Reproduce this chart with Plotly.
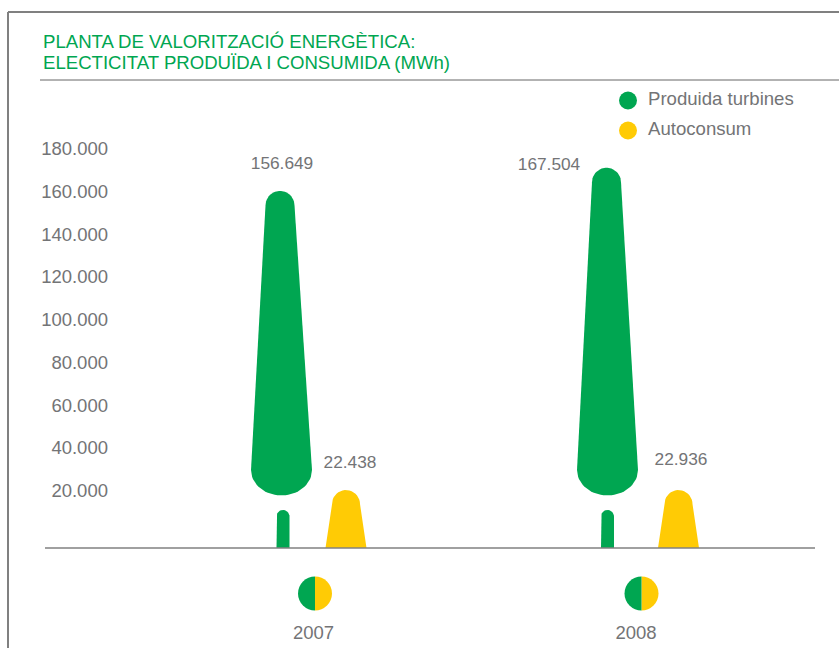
import numpy as np
import plotly.graph_objects as go

# ---- data ----
years = ["2007", "2008"]
series_names = ["Produida turbines", "Autoconsum"]
produced = [156649, 167504]
selfuse = [22438, 22936]
tick_values = [20000, 40000, 60000, 80000, 100000, 120000, 140000, 160000, 180000]
tick_labels = ["20.000", "40.000", "60.000", "80.000", "100.000", "120.000", "140.000", "160.000", "180.000"]
title_lines = ["PLANTA DE VALORITZACIÓ ENERGÈTICA:", "ELECTICITAT PRODUÏDA I CONSUMIDA (MWh)"]

# ---- layout constants ----
W, H = 839, 648
L, R, T, B = 109, 24, 85, 2
PX_PER_UNIT = 42.75 / 20000
ZERO_PX = 533.5
BASE_PX = 548
GREEN, YELLOW, GREY, FRAME = "#00A651", "#FFCB05", "#737476", "#808080"
FONT = "Liberation Sans"
FS = 18.5
year_x = [313.5, 636]
tree_x = [281.5, 607.5]
tree_top_x = [280, 606.5]
trunk_x = [283, 607.5]
auto_x = [346, 678.5]
pie_x = [315, 641.5]
PIE_Y, PIE_R = 593.5, 17
prod_label_x = [282, 549]
prod_label_px = [164.5, 165.5]
auto_label_x = [350, 681]
auto_label_px = [464, 461]
legend_marker_x = 628
legend_text_x = 648
legend_px = [100.5, 130.5]
title_px = [41, 63]


def to_y(px):
    return (ZERO_PX - np.asarray(px, dtype=float)) / PX_PER_UNIT


def to_px(v):
    return ZERO_PX - np.asarray(v, dtype=float) * PX_PER_UNIT


def tree_outline(cx, top_cx, value):
    top = float(to_px(value)) - 7.7
    r = 14.5
    t = np.linspace(np.pi, 0, 24)
    xs = list(top_cx + r * np.cos(t))
    ys = list(top + r - r * np.sin(t))
    t = np.linspace(0, np.pi, 36)
    xs += list(cx + 30.5 * np.cos(t))
    ys += list(470 + 25.5 * np.sin(t))
    xs.append(xs[0])
    ys.append(ys[0])
    return xs, to_y(ys)


def trunk_outline(cx):
    r = 6.5
    t = np.linspace(np.pi, 0, 16)
    xs = [cx - r] + list(cx + r * np.cos(t)) + [cx + r, cx - r]
    ys = [BASE_PX] + list(510 + r - r * np.sin(t)) + [BASE_PX, BASE_PX]
    return xs, to_y(ys)


def auto_outline(cx, value):
    top = 490.0
    r = 14
    t = np.linspace(np.pi, 0, 20)
    xs = [cx - 20.5] + list(cx + r * np.cos(t)) + [cx + 20.5, cx - 20.5]
    ys = [BASE_PX] + list(top + r - r * np.sin(t)) + [BASE_PX, BASE_PX]
    return xs, to_y(ys)


def dotted(v):
    return f"{v:,}".replace(",", ".")


fig = go.Figure()
for i, y in enumerate(years):
    for xs, ys, c in (
        (*tree_outline(tree_x[i], tree_top_x[i], produced[i]), GREEN),
        (*trunk_outline(trunk_x[i]), GREEN),
        (*auto_outline(auto_x[i], selfuse[i]), YELLOW),
    ):
        fig.add_trace(go.Scatter(x=xs, y=ys, mode="lines", fill="toself", fillcolor=c,
                                 line=dict(width=0, color=c), showlegend=False, hoverinfo="skip"))

fig.add_trace(go.Scatter(
    x=prod_label_x + auto_label_x,
    y=list(to_y(prod_label_px)) + list(to_y(auto_label_px)),
    text=[dotted(v) for v in produced + selfuse],
    mode="text", textposition="middle center",
    textfont=dict(family=FONT, size=17.3, color=GREY),
    showlegend=False, hoverinfo="skip", cliponaxis=False))

# legend key, drawn inside the plot so its spacing can follow the reference
fig.add_trace(go.Scatter(x=[legend_marker_x] * 2, y=to_y(legend_px), mode="markers",
                         marker=dict(size=18, color=[GREEN, YELLOW], line=dict(width=0)),
                         showlegend=False, hoverinfo="skip", cliponaxis=False))
fig.add_trace(go.Scatter(x=[legend_text_x] * 2, y=to_y(legend_px), mode="text", text=series_names,
                         textposition="middle right", textfont=dict(family=FONT, size=18.6, color=GREY),
                         showlegend=False, hoverinfo="skip", cliponaxis=False))

plot_w, plot_h = W - L - R, H - T - B


def ypaper(px):
    return (H - B - px) / plot_h


def xpaper(px):
    return (px - L) / plot_w


for i, y in enumerate(years):
    fig.add_trace(go.Pie(
        values=[1, 1], labels=series_names[::-1], sort=False,
        direction="clockwise", rotation=0, textinfo="none", hoverinfo="skip",
        showlegend=False, marker=dict(colors=[YELLOW, GREEN], line=dict(width=0)),
        domain=dict(x=[xpaper(pie_x[i] - PIE_R), xpaper(pie_x[i] + PIE_R)],
                    y=[ypaper(PIE_Y + PIE_R), ypaper(PIE_Y - PIE_R)])))

fig.update_layout(
    width=W, height=H, autosize=False,
    margin=dict(l=L, r=R, t=T, b=B),
    paper_bgcolor="white", plot_bgcolor="white",
    font=dict(family=FONT, color=GREY, size=FS),
    showlegend=False,
    annotations=[
        dict(text=line, xref="paper", yref="paper", x=xpaper(40.5), y=ypaper(p), xanchor="left", yanchor="middle",
             showarrow=False, font=dict(family=FONT, size=18.6, color=GREEN))
        for line, p in zip(title_lines, title_px)
    ],
    xaxis=dict(range=[L, W - R], tickvals=year_x, ticktext=years, ticks="",
               ticklabelposition="inside", showgrid=False, zeroline=False, showline=False,
               tickfont=dict(size=FS, color=GREY), fixedrange=True),
    yaxis=dict(range=[float(to_y(H - B)), float(to_y(T))], tickvals=tick_values, ticktext=tick_labels,
               ticks="", showgrid=False, zeroline=False, showline=False,
               tickfont=dict(size=FS, color=GREY), fixedrange=True),
    shapes=[
        dict(type="line", xref="paper", yref="paper", x0=xpaper(45), x1=xpaper(815),
             y0=ypaper(BASE_PX), y1=ypaper(BASE_PX), line=dict(color=FRAME, width=1.5)),
        dict(type="line", xref="paper", yref="paper", x0=xpaper(40), x1=xpaper(W),
             y0=ypaper(80), y1=ypaper(80), line=dict(color="#666666", width=1)),
        dict(type="line", xref="paper", yref="paper", x0=xpaper(8), x1=xpaper(8),
             y0=ypaper(H), y1=ypaper(12), line=dict(color=FRAME, width=2)),
        dict(type="line", xref="paper", yref="paper", x0=xpaper(8), x1=xpaper(W),
             y0=ypaper(12), y1=ypaper(12), line=dict(color=FRAME, width=2)),
    ],
)
fig.write_html("out.html", config={"displayModeBar": False}, post_script="document.body.style.margin='0';")
